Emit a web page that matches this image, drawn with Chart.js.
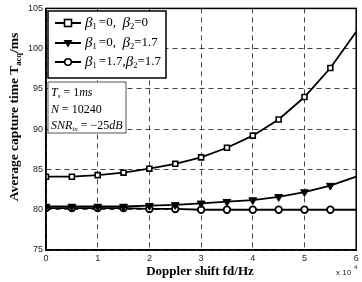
<!DOCTYPE html>
<html>
<head>
<meta charset="utf-8">
<script src="https://cdn.jsdelivr.net/npm/chart.js@4/dist/chart.umd.min.js"></script>
<style>
  html, body { margin: 0; padding: 0; background: #fff; }
  #wrap { width: 362px; height: 282px; }
</style>
</head>
<body>
<div id="wrap"><canvas id="chart" width="362" height="282"></canvas></div>
<script>
// doppler shift, in units of 10^4 Hz
const dopplerShift = [0, 0.5, 1, 1.5, 2, 2.5, 3, 3.5, 4, 4.5, 5, 5.5, 6];

// average capture time (ms)
const beta00 = [84.1, 84.1, 84.3, 84.6, 85.1, 85.7, 86.5, 87.7, 89.2, 91.2, 94.0, 97.6, 102.1];
const beta017 = [80.4, 80.4, 80.4, 80.4, 80.5, 80.6, 80.8, 81.0, 81.2, 81.6, 82.2, 83.0, 84.1];
const beta1717 = [80.2, 80.2, 80.2, 80.2, 80.1, 80.1, 80.0, 80.0, 80.0, 80.0, 80.0, 80.0, 80.0];

const xTicks = [0, 1, 2, 3, 4, 5, 6];
const yTicks = [75, 80, 85, 90, 95, 100, 105];

const SERIF = '"Liberation Serif", "Times New Roman", serif';
const SANS = '"Liberation Sans", Arial, sans-serif';

const toPoints = (ys) => dopplerShift.map((x, i) => ({ x: x, y: ys[i] }));
// no marker on the last point (x = 6)
const radii = (r) => dopplerShift.map((x, i) => (i === dopplerShift.length - 1 ? 0 : r));

// draws runs of text: [text, font, dy]
const drawRuns = (ctx, x, y, runs) => {
  runs.forEach((run) => {
    ctx.font = run[1];
    ctx.fillText(run[0], x, y + (run[2] || 0));
    x += ctx.measureText(run[0]).width;
  });
  return x;
};

const drawMarker = (ctx, style, x, y) => {
  ctx.save();
  ctx.strokeStyle = '#000';
  ctx.lineWidth = 1.6;
  if (style === 'rect') {
    ctx.fillStyle = '#fff';
    ctx.fillRect(x - 3.5, y - 3.5, 7, 7);
    ctx.strokeRect(x - 3.5, y - 3.5, 7, 7);
  } else if (style === 'triangle') {
    ctx.fillStyle = '#000';
    ctx.beginPath();
    ctx.moveTo(x - 4.5, y - 3);
    ctx.lineTo(x + 4.5, y - 3);
    ctx.lineTo(x, y + 4.5);
    ctx.closePath();
    ctx.fill();
  } else {
    ctx.fillStyle = '#fff';
    ctx.beginPath();
    ctx.arc(x, y, 3.3, 0, Math.PI * 2);
    ctx.fill();
    ctx.stroke();
  }
  ctx.restore();
};

const overlayPlugin = {
  id: 'overlay',
  afterDraw(chart) {
    const ctx = chart.ctx;
    const a = chart.chartArea;
    ctx.save();

    // frame
    ctx.strokeStyle = '#000';
    ctx.lineWidth = 1.5;
    ctx.strokeRect(a.left, a.top, a.right - a.left, a.bottom - a.top);

    // legend box
    ctx.fillStyle = '#fff';
    ctx.fillRect(48, 11, 118, 67);
    ctx.lineWidth = 1.5;
    ctx.strokeRect(48, 11, 118, 67);

    const it = 'italic 15px ' + SERIF;
    const up = '13px ' + SERIF;
    const sub = '8.5px ' + SERIF;
    const entries = [
      ['rect', 23, [['\u03b2', it], ['1 ', sub, 4], ['=0,  ', up], ['\u03b2', it], ['2', sub, 4], ['=0', up]]],
      ['triangle', 43, [['\u03b2', it], ['1 ', sub, 4], ['=0,  ', up], ['\u03b2', it], ['2', sub, 4], ['=1.7', up]]],
      ['circle', 62, [['\u03b2', it], ['1 ', sub, 4], ['=1.7,', up], ['\u03b2', it], ['2', sub, 4], ['=1.7', up]]]
    ];
    entries.forEach((e) => {
      ctx.strokeStyle = '#000';
      ctx.lineWidth = 2;
      ctx.beginPath();
      ctx.moveTo(55, e[1]);
      ctx.lineTo(81, e[1]);
      ctx.stroke();
      drawMarker(ctx, e[0], 68, e[1]);
      ctx.fillStyle = '#000';
      ctx.textBaseline = 'middle';
      ctx.textAlign = 'left';
      drawRuns(ctx, 85, e[1], e[2]);
    });

    // parameter box
    ctx.fillStyle = '#fff';
    ctx.fillRect(48, 82, 78, 51);
    ctx.strokeStyle = '#555';
    ctx.lineWidth = 1;
    ctx.strokeRect(48, 82, 78, 51);
    ctx.fillStyle = '#000';
    const pi = 'italic 12px ' + SERIF;
    const pu = '12px ' + SERIF;
    const ps = 'italic 7px ' + SERIF;
    drawRuns(ctx, 51, 93, [['T', pi], ['s', ps, 3], [' = 1', pu], ['ms', pi]]);
    drawRuns(ctx, 51, 110, [['N', pi], [' = 10240', pu]]);
    drawRuns(ctx, 51, 126, [['SNR', pi], ['in', ps, 3], [' = \u221225', pu], ['dB', pi]]);

    // axis titles
    ctx.fillStyle = '#000';
    ctx.textBaseline = 'alphabetic';
    ctx.font = 'bold 13px ' + SERIF;
    ctx.textAlign = 'center';
    ctx.fillText('Doppler shift fd/Hz', 200, 275);

    ctx.save();
    ctx.translate(18, 117);
    ctx.rotate(-Math.PI / 2);
    const titleRuns = [['Average capture time T', 'bold 13.5px ' + SERIF], ['acq', 'bold 8.5px ' + SERIF, 3], ['/ms', 'bold 13.5px ' + SERIF]];
    let w = 0;
    titleRuns.forEach((r) => { ctx.font = r[1]; w += ctx.measureText(r[0]).width; });
    ctx.textAlign = 'left';
    drawRuns(ctx, -w / 2, 0, titleRuns);
    ctx.restore();

    // exponent label
    ctx.fillStyle = '#222';
    ctx.textAlign = 'left';
    ctx.font = '8px ' + SANS;
    ctx.fillText('x 10', 336, 275);
    ctx.font = '6px ' + SANS;
    ctx.fillText('4', 354, 269);

    ctx.restore();
  }
};

const ctx = document.getElementById('chart').getContext('2d');
const chart = new Chart(ctx, {
  type: 'line',
  data: {
    datasets: [
      {
        data: toPoints(beta00),
        borderColor: '#000', borderWidth: 1.8,
        pointStyle: 'rect', pointRadius: radii(3.5),
        pointBorderWidth: 1.6, pointBorderColor: '#000', pointBackgroundColor: '#fff',
        tension: 0
      },
      {
        data: toPoints(beta017),
        borderColor: '#000', borderWidth: 1.8,
        pointStyle: 'triangle', pointRotation: 180, pointRadius: radii(4.5),
        pointBorderWidth: 1, pointBorderColor: '#000', pointBackgroundColor: '#000',
        tension: 0
      },
      {
        data: toPoints(beta1717),
        borderColor: '#000', borderWidth: 1.8,
        pointStyle: 'circle', pointRadius: radii(3.3),
        pointBorderWidth: 1.8, pointBorderColor: '#000', pointBackgroundColor: '#fff',
        tension: 0
      }
    ]
  },
  options: {
    responsive: false,
    animation: false,
    layout: { padding: { top: 8, right: 5, left: 0, bottom: 0 } },
    plugins: {
      legend: { display: false },
      tooltip: { enabled: false }
    },
    scales: {
      x: {
        type: 'linear',
        min: 0, max: 6,
        afterFit: (scale) => { scale.height = 32; },
        afterBuildTicks: (scale) => { scale.ticks = xTicks.map((v) => ({ value: v })); },
        ticks: { font: { family: SANS, size: 9 }, color: '#222', padding: 3 },
        grid: { color: '#444', lineWidth: 1, drawTicks: false },
        border: { display: true, color: '#000', width: 1.5, dash: [5, 4] }
      },
      y: {
        min: 75, max: 105,
        afterFit: (scale) => { scale.width = 46; },
        afterBuildTicks: (scale) => { scale.ticks = yTicks.map((v) => ({ value: v })); },
        ticks: { font: { family: SANS, size: 9 }, color: '#222', padding: 3 },
        grid: { color: '#444', lineWidth: 1, drawTicks: false },
        border: { display: true, color: '#000', width: 1.5, dash: [5, 4] }
      }
    }
  },
  plugins: [overlayPlugin]
});
</script>
</body>
</html>
